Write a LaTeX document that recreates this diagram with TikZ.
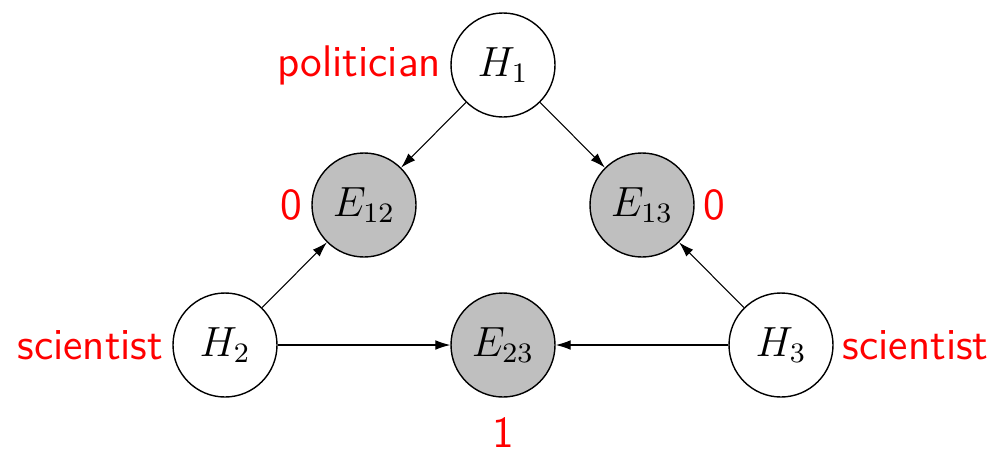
\documentclass[tikz,border=0pt]{standalone}
\usetikzlibrary{positioning, arrows.meta}
\newcommand{\zoomtxt}[1]{\scalebox{2}{#1}}
\newcommand{\lbltxt}[1]{\scalebox{2.1}{#1}}

\begin{document}
\begin{tikzpicture}[
  every node/.style={font=\fontsize{12}{14}\selectfont},
  hyp/.style={draw, circle, line width=0.8pt, fill=white, minimum size=2.08cm, inner sep=0pt},
  evd/.style={hyp, fill=gray!50},
  lbl/.style={font=\sffamily\fontsize{12}{14}\selectfont, red, inner sep=5pt},
  edge/.style={-{Latex[length=8.5pt, width=5.5pt]}, line width=0.6pt},
]
  \useasboundingbox (0,0) rectangle (19.9,9.02);

  % Hypotheses
  \node[hyp, label={[lbl]left:\lbltxt{politician}}] (h1) at (10.06, 7.72) {\zoomtxt{$H_1$}};
  \node[hyp, label={[lbl]left:\lbltxt{scientist}}] (h2) at (4.5, 2.12) {\zoomtxt{$H_2$}};
  \node[hyp, label={[lbl]right:\lbltxt{scientist}}] (h3) at (15.62, 2.12) {\zoomtxt{$H_3$}};

  % Evidence
  \node[evd, label={[lbl]left:\lbltxt{0}}] (e12) at (7.28, 4.92) {\zoomtxt{$E_{12}$}};
  \node[evd, label={[lbl]right:\lbltxt{0}}] (e13) at (12.84, 4.92) {\zoomtxt{$E_{13}$}};
  \node[evd, label={[lbl, inner sep=1pt, label distance=0.36cm]below:\lbltxt{1}}] (e23) at (10.06, 2.12) {\zoomtxt{$E_{23}$}};

  \draw[edge] (h1) -- (e12);
  \draw[edge] (h1) -- (e13);
  \draw[edge] (h2) -- (e12);
  \draw[edge] (h3) -- (e13);
  \draw[edge] (h2) -- (e23);
  \draw[edge] (h3) -- (e23);
\end{tikzpicture}
\end{document}
